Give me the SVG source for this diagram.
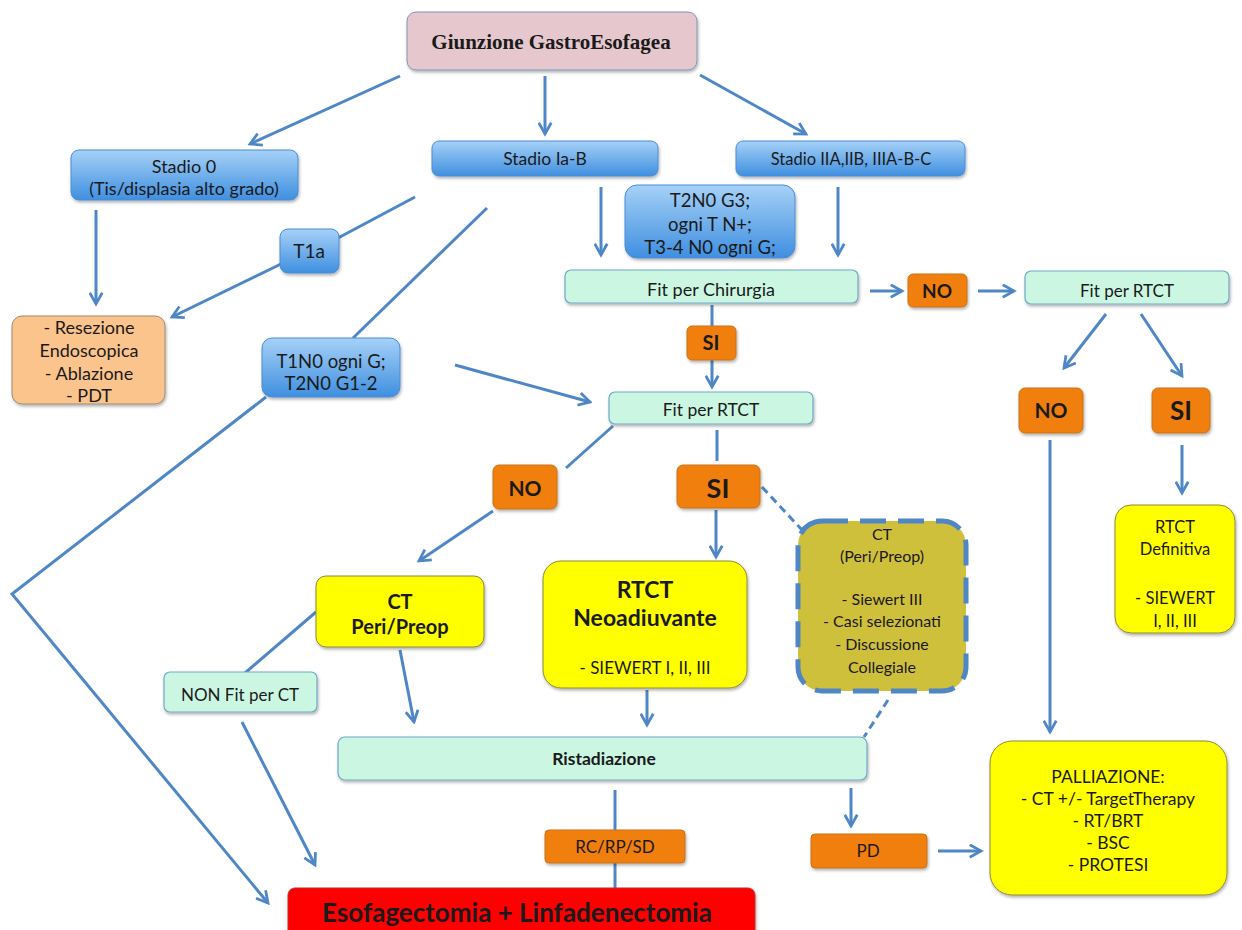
<svg xmlns="http://www.w3.org/2000/svg" width="1242" height="930" viewBox="0 0 1242 930">
  <defs>
    <linearGradient id="blueFill" x1="0" y1="0" x2="0" y2="1">
      <stop offset="0" stop-color="#a6d1f7"/>
      <stop offset="1" stop-color="#3f8fe0"/>
    </linearGradient>
    <filter id="shadow" x="-10%" y="-10%" width="130%" height="140%">
      <feDropShadow dx="1" dy="2" stdDeviation="1.5" flood-color="#000" flood-opacity="0.3"/>
    </filter>
    <marker id="arrow" viewBox="0 0 12 12" refX="10" refY="6" markerWidth="5" markerHeight="5" orient="auto" markerUnits="strokeWidth">
      <path d="M1,1 L10,6 L1,11" fill="none" stroke="#4f86c6" stroke-width="2.2" stroke-linejoin="miter"/>
    </marker>
  </defs>
  <style>
    .conn { fill: none; stroke: #4f86c6; stroke-width: 3; }
    .arr { marker-end: url(#arrow); }
    .dash { stroke-dasharray: 8 5; }
    .blue { fill: url(#blueFill); stroke: #4a8cd6; stroke-width: 1; filter: url(#shadow); }
    .green { fill: #cbf7e2; stroke: #6fa9c8; stroke-width: 1.2; filter: url(#shadow); }
    .orange { fill: #f07f0f; stroke: #c7731c; stroke-width: 1; filter: url(#shadow); }
    .yellow { fill: #ffff00; stroke: #8a8a3a; stroke-width: 1; filter: url(#shadow); }
    .peach { fill: #fbc48c; stroke: #a08a70; stroke-width: 1; filter: url(#shadow); }
    .pink { fill: #e6c7cd; stroke: #7f96b8; stroke-width: 1; filter: url(#shadow); }
    .olive { fill: #cfc03b; stroke: #4f86c6; stroke-width: 5; stroke-dasharray: 26 12; }
    .red { fill: #ff0000; stroke: #b33; stroke-width: 1; filter: url(#shadow); }
    text { font-family: Lato, "Liberation Sans", sans-serif; fill: #1a1a1a; text-anchor: middle; }
    .b { font-weight: bold; }
    .title { font-family: "Liberation Serif", serif; font-weight: bold; font-size: 21px; }
  </style>

  <!-- connectors -->
  <g id="connectors">
    <line class="conn arr" x1="400" y1="76" x2="250" y2="144"/>
    <line class="conn arr" x1="545" y1="76" x2="545" y2="134"/>
    <line class="conn arr" x1="700" y1="75" x2="806" y2="134"/>
    <line class="conn arr" x1="96" y1="210" x2="96" y2="304"/>
    <line class="conn" x1="415" y1="197" x2="338" y2="238"/>
    <line class="conn arr" x1="283" y1="263" x2="172" y2="317"/>
    <line class="conn" x1="487" y1="208" x2="353" y2="338"/>
    <polyline class="conn arr" points="266,397 12,594 268,903"/>
    <line class="conn arr" x1="455" y1="365" x2="590" y2="402"/>
    <line class="conn arr" x1="601" y1="187" x2="601" y2="255"/>
    <line class="conn arr" x1="838" y1="187" x2="838" y2="255"/>
    <line class="conn arr" x1="870" y1="291" x2="902" y2="291"/>
    <line class="conn arr" x1="978" y1="291" x2="1014" y2="291"/>
    <line class="conn" x1="712" y1="305" x2="712" y2="327"/>
    <line class="conn arr" x1="712" y1="360" x2="712" y2="387"/>
    <line class="conn arr" x1="1106" y1="314" x2="1064" y2="368"/>
    <line class="conn arr" x1="1141" y1="314" x2="1182" y2="376"/>
    <line class="conn arr" x1="1182" y1="445" x2="1182" y2="493"/>
    <line class="conn arr" x1="1050" y1="440" x2="1050" y2="732"/>
    <line class="conn" x1="613" y1="426" x2="566" y2="468"/>
    <line class="conn arr" x1="493" y1="511" x2="419" y2="561"/>
    <line class="conn" x1="717" y1="430" x2="717" y2="461"/>
    <line class="conn arr" x1="716" y1="510" x2="716" y2="557"/>
    <line class="conn dash" x1="762" y1="487" x2="802" y2="530"/>
    <line class="conn dash" x1="888" y1="700" x2="864" y2="737"/>
    <line class="conn" x1="316" y1="612" x2="245" y2="673"/>
    <line class="conn arr" x1="400" y1="650" x2="414" y2="722"/>
    <line class="conn arr" x1="647" y1="690" x2="647" y2="725"/>
    <line class="conn arr" x1="242" y1="722" x2="315" y2="865"/>
    <line class="conn" x1="615" y1="790" x2="615" y2="830"/>
    <line class="conn" x1="615" y1="863" x2="615" y2="889"/>
    <line class="conn arr" x1="851" y1="788" x2="851" y2="826"/>
    <line class="conn arr" x1="938" y1="851" x2="981" y2="851"/>
  </g>

  <!-- nodes -->
  <g id="giunzione">
    <rect class="pink" x="407" y="12" width="290" height="58" rx="9"/>
    <text class="title" x="551" y="49">Giunzione GastroEsofagea</text>
  </g>
  <g id="stadio0">
    <rect class="blue" x="71" y="150" width="227" height="50" rx="8"/>
    <text font-size="18" x="184" y="173">Stadio 0</text>
    <text font-size="18" x="184" y="195">(Tis/displasia alto grado)</text>
  </g>
  <g id="stadioIaB">
    <rect class="blue" x="432" y="141" width="226" height="35" rx="7"/>
    <text font-size="17.5" x="545" y="165">Stadio Ia-B</text>
  </g>
  <g id="stadioII">
    <rect class="blue" x="736" y="141" width="229" height="35" rx="7"/>
    <text font-size="16.5" x="851" y="165">Stadio IIA,IIB, IIIA-B-C</text>
  </g>
  <g id="t2n0g3">
    <rect class="blue" x="625" y="185" width="170" height="73" rx="12"/>
    <text font-size="18.5" x="710" y="207">T2N0 G3;</text>
    <text font-size="18.5" x="710" y="231">ogni T N+;</text>
    <text font-size="18.5" x="710" y="254">T3-4 N0 ogni G;</text>
  </g>
  <g id="t1a">
    <rect class="blue" x="280" y="229" width="59" height="44" rx="8"/>
    <text font-size="19" x="309" y="258">T1a</text>
  </g>
  <g id="resezione">
    <rect class="peach" x="12" y="316" width="153" height="88" rx="10"/>
    <text font-size="18" x="89" y="334">- Resezione</text>
    <text font-size="18" x="89" y="357">Endoscopica</text>
    <text font-size="18" x="89" y="380">- Ablazione</text>
    <text font-size="18" x="89" y="402">- PDT</text>
  </g>
  <g id="t1n0">
    <rect class="blue" x="262" y="338" width="138" height="59" rx="10"/>
    <text font-size="18.5" x="331" y="368">T1N0 ogni G;</text>
    <text font-size="18.5" x="331" y="390">T2N0 G1-2</text>
  </g>
  <g id="fitChirurgia">
    <rect class="green" x="565" y="270" width="293" height="33" rx="6"/>
    <text font-size="18" x="711" y="296">Fit per Chirurgia</text>
  </g>
  <g id="noChirurgia">
    <rect class="orange" x="908" y="274" width="59" height="33" rx="5"/>
    <text class="b" font-size="19" x="937" y="298">NO</text>
  </g>
  <g id="fitRtctRight">
    <rect class="green" x="1025" y="271" width="204" height="33" rx="6"/>
    <text font-size="17" x="1127" y="297">Fit per RTCT</text>
  </g>
  <g id="siChirurgia">
    <rect class="orange" x="687" y="326" width="49" height="34" rx="5"/>
    <text class="b" font-size="20" x="711" y="350">SI</text>
  </g>
  <g id="fitRtctMid">
    <rect class="green" x="609" y="392" width="204" height="32" rx="6"/>
    <text font-size="17.5" x="711" y="416">Fit per RTCT</text>
  </g>
  <g id="noRight">
    <rect class="orange" x="1019" y="388" width="64" height="45" rx="6"/>
    <text class="b" font-size="21" x="1051" y="418">NO</text>
  </g>
  <g id="siRight">
    <rect class="orange" x="1152" y="388" width="58" height="45" rx="6"/>
    <text class="b" font-size="26" x="1181" y="420">SI</text>
  </g>
  <g id="noMid">
    <rect class="orange" x="493" y="465" width="64" height="44" rx="6"/>
    <text class="b" font-size="21" x="525" y="496">NO</text>
  </g>
  <g id="siMid">
    <rect class="orange" x="677" y="465" width="83" height="43" rx="6"/>
    <text class="b" font-size="27" x="718" y="498">SI</text>
  </g>
  <g id="ctPeriCollegiale">
    <rect class="olive" x="798" y="521" width="168" height="170" rx="24"/>
    <text font-size="16" x="882" y="540">CT</text>
    <text font-size="16" x="882" y="562">(Peri/Preop)</text>
    <text font-size="16" x="882" y="605">- Siewert III</text>
    <text font-size="16" x="882" y="627">- Casi selezionati</text>
    <text font-size="16" x="882" y="650">- Discussione</text>
    <text font-size="16" x="882" y="673">Collegiale</text>
  </g>
  <g id="rtctDefinitiva">
    <rect class="yellow" x="1115" y="505" width="120" height="128" rx="16"/>
    <text font-size="16.5" x="1175" y="533">RTCT</text>
    <text font-size="16.5" x="1175" y="555">Definitiva</text>
    <text font-size="16.5" x="1175" y="604">- SIEWERT</text>
    <text font-size="16.5" x="1175" y="627">I, II, III</text>
  </g>
  <g id="ctPeriPreop">
    <rect class="yellow" x="316" y="576" width="168" height="71" rx="10"/>
    <text class="b" font-size="20" x="400" y="609">CT</text>
    <text class="b" font-size="20" x="400" y="634">Peri/Preop</text>
  </g>
  <g id="rtctNeo">
    <rect class="yellow" x="543" y="561" width="204" height="127" rx="18"/>
    <text class="b" font-size="23" x="645" y="598">RTCT</text>
    <text class="b" font-size="23" x="645" y="626">Neoadiuvante</text>
    <text font-size="17" x="645" y="674">- SIEWERT I, II, III</text>
  </g>
  <g id="nonFitCt">
    <rect class="green" x="164" y="672" width="153" height="40" rx="6"/>
    <text font-size="17" x="240" y="701">NON Fit per CT</text>
  </g>
  <g id="ristadiazione">
    <rect class="green" x="338" y="737" width="529" height="43" rx="7"/>
    <text class="b" font-size="17.5" x="604" y="765">Ristadiazione</text>
  </g>
  <g id="rcRpSd">
    <rect class="orange" x="545" y="830" width="140" height="33" rx="4"/>
    <text font-size="17" x="615" y="853">RC/RP/SD</text>
  </g>
  <g id="pd">
    <rect class="orange" x="811" y="834" width="116" height="34" rx="4"/>
    <text font-size="17" x="868" y="857">PD</text>
  </g>
  <g id="palliazione">
    <rect class="yellow" x="990" y="741" width="237" height="154" rx="22"/>
    <text font-size="17.5" x="1108" y="783">PALLIAZIONE:</text>
    <text font-size="17.5" x="1108" y="805">- CT +/- TargetTherapy</text>
    <text font-size="17.5" x="1108" y="827">- RT/BRT</text>
    <text font-size="17.5" x="1108" y="849">- BSC</text>
    <text font-size="17.5" x="1108" y="871">- PROTESI</text>
  </g>
  <g id="esofagectomia">
    <rect class="red" x="288" y="888" width="467" height="52" rx="7"/>
    <text class="b" font-size="26" x="517" y="922">Esofagectomia + Linfadenectomia</text>
  </g>
</svg>
